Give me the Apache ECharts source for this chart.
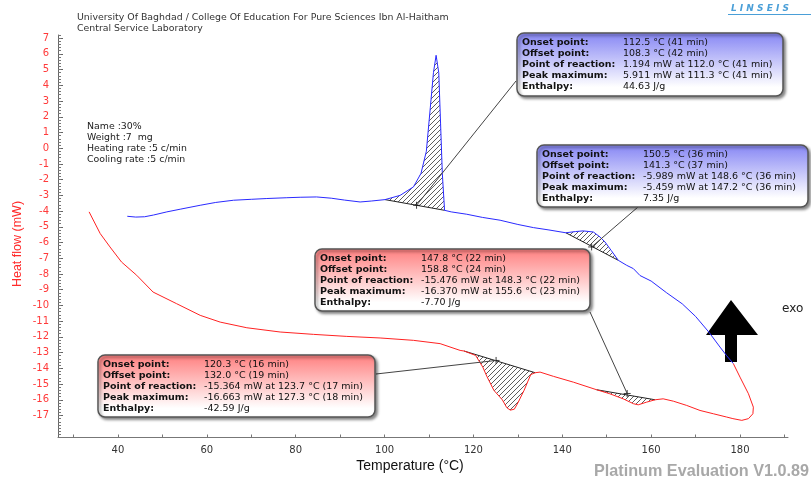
<!DOCTYPE html>
<html>
<head>
<meta charset="utf-8">
<script src="https://cdn.jsdelivr.net/npm/echarts@6/dist/echarts.min.js"></script>
<style>html,body{margin:0;padding:0;background:#fff;}#c{width:811px;height:481px;}</style>
</head>
<body>
<div id="c"></div>
<script>
// ---------- data ----------
const tempTicks = [30,40,50,60,70,80,90,100,110,120,130,140,150,160,170,180,190];
const tempLabels = [40,60,80,100,120,140,160,180];
const hfLabels = [-17,-16,-15,-14,-13,-12,-11,-10,-9,-8,-7,-6,-5,-4,-3,-2,-1,0,1,2,3,4,5,6,7];

// heating curve (blue) [T °C, heat flow mW]
const heating = [
 [42.1,-4.33],[44,-4.38],[46,-4.36],[48,-4.25],[51,-4.05],[54,-3.88],[58.5,-3.63],[62,-3.45],
 [66,-3.31],[70,-3.25],[73.5,-3.2],[78,-3.15],[81,-3.12],[84.7,-3.1],[88,-3.18],[91,-3.3],
 [94.5,-3.42],[97,-3.36],[100.1,-3.27],[103.5,-3.0],[106.5,-2.46],[108.2,-1.6],[109.4,-0.2],
 [110.3,2.6],[111.0,4.8],[111.6,5.91],[112.2,4.8],[112.6,1.6],[113.0,-1.6],[113.5,-3.95],
 [115,-4.05],[118.5,-4.2],[122,-4.4],[126,-4.58],[130,-4.85],[133.5,-5.05],[137,-5.2],
 [140.8,-5.38],[143,-5.3],[144.7,-5.26],[147,-5.33],[148.5,-5.65],[149.6,-5.96],[151,-6.5],
 [152.6,-7.13],[154.5,-7.45],[156,-7.66],[157.5,-8.1],[160,-8.45],[163.5,-9.2],[167,-9.9],
 [170,-10.7],[173,-11.7],[175.5,-12.65],[177,-13.2],[178.5,-13.7]
];
// cooling curve (red), in time order (from high to low temperature)
const cooling = [
 [178.5,-13.7],[180,-14.56],[181.9,-15.62],[183,-16.47],[182.9,-16.89],[181.9,-17.2],[180.4,-17.31],
 [178.4,-17.2],[177,-17.1],[174,-16.89],[171,-16.68],[168,-16.36],[165,-16.09],[162.7,-15.94],
 [160.9,-16.0],[159,-16.15],[157.1,-16.32],[156,-16.25],[153.7,-15.94],[150.7,-15.62],
 [147.7,-15.36],[142.5,-14.88],[138,-14.51],[135,-14.24],[133.9,-14.28],[132.9,-14.4],
 [131.4,-15.4],[130,-16.2],[129.2,-16.6],[128.3,-16.66],[127.5,-16.5],[126.5,-16.0],
 [124.6,-15.4],[123,-14.5],[122.1,-13.92],[120.5,-13.18],[117.9,-12.9],[117,-12.86],
 [112.5,-12.43],[106.5,-12.22],[99,-12.07],[91.5,-11.97],[84,-11.84],[76.5,-11.69],
 [69,-11.42],[63,-11.06],[58.5,-10.63],[53.2,-9.89],[47.9,-9.15],[44.2,-8.08],[40.8,-7.24],
 [38.2,-6.28],[36,-5.43],[33.5,-4.05]
];
// peak baselines [start, end] and their reaction points
const heatPeak1Base = [[100.1,-3.27],[113.5,-3.95]];
const heatPeak2Base = [[140.8,-5.38],[152.6,-7.13]];
const coolPeak1Base = [[117.9,-12.9],[133.9,-14.28]];
const coolPeak2Base = [[147.7,-15.36],[160.9,-16.0]];
const reactionPoints = [[107.2,-3.63],[146.6,-6.28],[125.1,-13.5],[154.6,-15.6]];

const boxLabels = ['Onset point:','Offset point:','Point of reaction:','Peak maximum:','Enthalpy:'];
const box1Values = ['112.5 °C (41 min)','108.3 °C (42 min)','1.194 mW at 112.0 °C (41 min)','5.911 mW at 111.3 °C (41 min)','44.63 J/g'];
const box2Values = ['150.5 °C (36 min)','141.3 °C (37 min)','-5.989 mW at 148.6 °C (36 min)','-5.459 mW at 147.2 °C (36 min)','7.35 J/g'];
const box3Values = ['147.8 °C (22 min)','158.8 °C (24 min)','-15.476 mW at 148.3 °C (22 min)','-16.370 mW at 155.6 °C (23 min)','-7.70 J/g'];
const box4Values = ['120.3 °C (16 min)','132.0 °C (19 min)','-15.364 mW at 123.7 °C (17 min)','-16.663 mW at 127.3 °C (18 min)','-42.59 J/g'];
const sampleInfo = ['Name :30%','Weight :7  mg','Heating rate :5 c/min','Cooling rate :5 c/min'];
const titleLines = ['University Of Baghdad / College Of Education For Pure Sciences Ibn Al-Haitham','Central Service Laboratory'];

// ---------- helpers ----------
const minorTicks = [];
for (let i = -92; i <= 36; i++) minorTicks.push(+(i*0.2).toFixed(1));

function hatchPattern(){
  const cv = document.createElement('canvas');
  cv.width = 5; cv.height = 5;
  const g = cv.getContext('2d');
  g.strokeStyle = '#333'; g.lineWidth = 0.8;
  g.beginPath();
  g.moveTo(0,5); g.lineTo(5,0);
  g.moveTo(-1,1); g.lineTo(1,-1);
  g.moveTo(4,6); g.lineTo(6,4);
  g.stroke();
  return {image: cv, repeat: 'repeat'};
}
const pat = hatchPattern();

function peakPoly(curve, base){
  const lo = Math.min(base[0][0], base[1][0]), hi = Math.max(base[0][0], base[1][0]);
  return curve.filter(p => p[0] >= lo && p[0] <= hi).slice().sort((a,b)=>a[0]-b[0]);
}
function hatchSeries(poly){
  return {
    type:'custom', z:1, silent:true,
    data:[poly[0]],
    renderItem:(params, api)=>({
      type:'polygon',
      shape:{points: poly.map(p=>api.coord(p))},
      style:{fill: pat, stroke: null}
    })
  };
}
function baseSeries(base){
  return {type:'line', data: base, symbol:'none', z:3, silent:true,
    lineStyle:{color:'#222', width:1}};
}

const chart = echarts.init(document.getElementById('c'));
const F = '"DejaVu Sans", Verdana, sans-serif';

chart.setOption({
  animation:false,
  backgroundColor:'#fff',
  grid:{left:58, right:23, top:35, bottom:43.5},
  xAxis:{
    type:'value', min:26.5, max:190.8,
    axisLine:{show:true, onZero:false, lineStyle:{color:'#777'}},
    axisTick:{show:true, inside:true, length:3, customValues: tempTicks, lineStyle:{color:'#777'}},
    axisLabel:{customValues: tempLabels, color:'#333', fontSize:10, fontFamily:F, margin:8},
    splitLine:{show:false}
  },
  yAxis:[{
    type:'value', min:-18.4, max:7.2, position:'left',
    axisLine:{show:true, onZero:false, lineStyle:{color:'#666'}},
    axisTick:{show:true, inside:true, length:5, customValues: hfLabels, lineStyle:{color:'#666'}},
    axisLabel:{customValues: hfLabels, color:'#ff3a3a', fontSize:10, fontFamily:F, margin:9},
    splitLine:{show:false}
  },{
    type:'value', min:-18.4, max:7.2, position:'left',
    axisLine:{show:false, onZero:false},
    axisTick:{show:true, inside:true, length:3, customValues: minorTicks, lineStyle:{color:'#777'}},
    axisLabel:{show:false},
    splitLine:{show:false}
  }],
  series:[
    hatchSeries(peakPoly(heating, heatPeak1Base)),
    hatchSeries(peakPoly(heating, heatPeak2Base)),
    hatchSeries(peakPoly(cooling, coolPeak1Base)),
    hatchSeries(peakPoly(cooling, coolPeak2Base)),
    baseSeries(heatPeak1Base), baseSeries(heatPeak2Base),
    baseSeries(coolPeak1Base), baseSeries(coolPeak2Base),
    {type:'line', data: heating, symbol:'none', z:4, lineStyle:{color:'#2a2aff', width:1}},
    {type:'line', data: cooling, symbol:'none', z:4, lineStyle:{color:'#ff2222', width:1}},
    {type:'scatter', data: reactionPoints, symbol:'path://M0,5L10,5M5,0L5,10', symbolSize:7, z:5,
     itemStyle:{color:'rgba(0,0,0,0)', borderColor:'#111', borderWidth:1}}
  ]
});

// ---------- annotations ----------
function box(x, y, w, h, topColor, values){
  return [{
    type:'rect', z:100,
    shape:{x:x, y:y, width:w, height:h, r:7},
    style:{
      fill: new echarts.graphic.LinearGradient(0,0,0,1,[{offset:0,color:topColor},{offset:0.85,color:'#ffffff'},{offset:1,color:'#ffffff'}]),
      stroke:'#555', lineWidth:1.5,
      shadowBlur:3, shadowOffsetX:2, shadowOffsetY:2, shadowColor:'rgba(0,0,0,0.45)'
    }
  },{
    type:'text', z:101, x:x+5, y:y+4,
    style:{text: boxLabels.join('\n'), font:'bold 9.5px '+F, fill:'#111', lineHeight:11, verticalAlign:'top'}
  },{
    type:'text', z:101, x:x+106, y:y+4,
    style:{text: values.join('\n'), font:'9.5px '+F, fill:'#111', lineHeight:11, verticalAlign:'top'}
  }];
}
function leader(pt, px, py){
  const p = chart.convertToPixel({gridIndex:0}, pt);
  return {type:'line', z:50, shape:{x1:p[0], y1:p[1], x2:px, y2:py}, style:{stroke:'#444', lineWidth:1}};
}

const g = [];
// header texts
g.push({type:'text', x:77, y:12.5, style:{text: titleLines.join('\n'), font:'9.4px '+F, fill:'#333', lineHeight:10.8, verticalAlign:'top'}});
g.push({type:'text', x:87, y:121.5, style:{text: sampleInfo.join('\n'), font:'9.4px '+F, fill:'#222', lineHeight:10.9, verticalAlign:'top'}});
// logo
g.push({type:'text', x:731, y:4, style:{text:'L I N S E I S', font:'italic bold 9px '+F, fill:'#4a9fd8', verticalAlign:'top'}});
g.push({type:'line', shape:{x1:728, y1:14.5, x2:811, y2:14.5}, style:{stroke:'#4a9fd8', lineWidth:1}});
// axis titles
g.push({type:'text', x:18, y:244, rotation:Math.PI/2, style:{text:'Heat flow (mW)', font:'12.5px "Liberation Sans", Arial, sans-serif', fill:'#ff2a2a', align:'center', verticalAlign:'middle'}});
g.push({type:'text', x:410, y:466.5, style:{text:'Temperature (°C)', font:'14px "Liberation Sans", Arial, sans-serif', fill:'#111', align:'center', verticalAlign:'middle'}});
g.push({type:'text', x:594, y:471.5, style:{text:'Platinum Evaluation V1.0.89', font:'bold 16.2px "Liberation Sans", Arial, sans-serif', fill:'#a8a8a8', verticalAlign:'middle'}});
g.push({type:'text', x:782, y:309, style:{text:'exo', font:'12px '+F, fill:'#222', verticalAlign:'middle'}});
// exo arrow
g.push({type:'polygon', z:0, shape:{points:[[731,300],[758,335],[737,335],[737,362],[725,362],[725,335],[706,335]]}, style:{fill:'#000'}});
// leader lines
g.push(leader(reactionPoints[0], 516, 81));
g.push(leader(reactionPoints[1], 638, 207));
g.push(leader(reactionPoints[2], 376, 374));
g.push(leader(reactionPoints[3], 590, 312));
// boxes
g.push(...box(517, 33, 266, 63, '#8585f4', box1Values));
g.push(...box(537, 145, 271, 62, '#8585f4', box2Values));
g.push(...box(315, 249, 275, 62, '#ff7e7e', box3Values));
g.push(...box(98, 355, 277, 62, '#ff7e7e', box4Values));

chart.setOption({graphic: g});
</script>
</body>
</html>
